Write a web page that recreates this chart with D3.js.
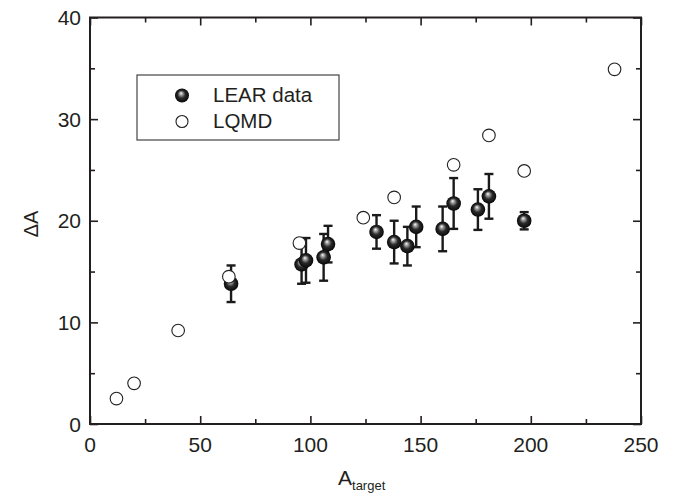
<!DOCTYPE html>
<html><head><meta charset="utf-8">
<script src="https://cdn.jsdelivr.net/npm/d3@7"></script>
<style>
html,body{margin:0;padding:0;background:#fff;}
svg{display:block;font-family:"Liberation Sans",Arial,sans-serif;}
</style></head>
<body><svg id="c" width="685" height="495"></svg>
<script>
// LEAR data (filled spheres with error bars)
const learX = [64, 96, 98, 106, 108, 130, 138, 144, 148, 160, 165, 176, 181, 197];
const learY = [13.8, 15.7, 16.1, 16.4, 17.7, 18.9, 17.9, 17.5, 19.4, 19.2, 21.7, 21.1, 22.4, 20.0];
const learErr = [1.8, 1.9, 2.2, 2.3, 1.8, 1.65, 2.1, 1.9, 2.0, 2.2, 2.5, 2.0, 2.2, 0.85];
// LQMD (open circles)
const lqmdX = [12, 20, 40, 63, 95, 124, 138, 165, 181, 197, 238];
const lqmdY = [2.5, 4.0, 9.2, 14.5, 17.8, 20.3, 22.3, 25.5, 28.4, 24.9, 34.9];
const xTicks = [0, 50, 100, 150, 200, 250];
const yTicks = [0, 10, 20, 30, 40];
const xMinor = [25, 75, 125, 175, 225];
const yMinor = [5, 15, 25, 35];
const seriesNames = ["LEAR data", "LQMD"];

const svg = d3.select("#c");
const L = 90, R = 641, T = 17.5, B = 424;
const x = d3.scaleLinear().domain([0, 250]).range([L, R]);
const y = d3.scaleLinear().domain([0, 40]).range([B, T]);
const ink = "#231f20";

const defs = svg.append("defs");
const g = defs.append("radialGradient").attr("id", "ball")
  .attr("cx", "0.5").attr("cy", "0.5").attr("r", "0.5").attr("fx", "0.42").attr("fy", "0.32");
g.append("stop").attr("offset", "0%").attr("stop-color", "#ffffff");
g.append("stop").attr("offset", "18%").attr("stop-color", "#b0b0b0");
g.append("stop").attr("offset", "55%").attr("stop-color", "#2a2a2a");
g.append("stop").attr("offset", "100%").attr("stop-color", "#080808");

// axes with inward ticks
function axisSet(axisGen, tr, major, minor) {
  const a = svg.append("g").attr("transform", tr);
  a.call(axisGen.tickValues(major).tickSizeInner(8).tickSizeOuter(0));
  const m = svg.append("g").attr("transform", tr);
  m.call(axisGen.tickValues(minor).tickSizeInner(5).tickSizeOuter(0).tickFormat(""));
  m.select(".domain").remove();
  [a, m].forEach(s => { s.selectAll("line").attr("stroke", ink).attr("stroke-width", 1.6); s.select(".domain").attr("stroke", "none"); });
  return a;
}
const xb = axisSet(d3.axisTop(x), `translate(0,${B})`, xTicks, xMinor);
xb.selectAll("text").remove();
const xt = axisSet(d3.axisBottom(x), `translate(0,${T})`, xTicks, xMinor);
xt.selectAll("text").remove();
const yl = axisSet(d3.axisRight(y), `translate(${L},0)`, yTicks, yMinor);
yl.selectAll("text").remove();
const yr = axisSet(d3.axisLeft(y), `translate(${R},0)`, yTicks, yMinor);
yr.selectAll("text").remove();

// frame
svg.append("rect").attr("x", L).attr("y", T).attr("width", R - L).attr("height", B - T)
  .attr("fill", "none").attr("stroke", ink).attr("stroke-width", 2);

// tick labels
svg.append("g").selectAll("text").data(xTicks).join("text")
  .attr("x", d => x(d)).attr("y", 452).attr("text-anchor", "middle")
  .attr("font-size", 21).attr("fill", ink).text(d => d);
svg.append("g").selectAll("text").data(yTicks).join("text")
  .attr("x", 81).attr("y", d => y(d) + 7.5).attr("text-anchor", "end")
  .attr("font-size", 21).attr("fill", ink).text(d => d);

// axis titles
const xl = svg.append("text").attr("x", 338).attr("y", 485).attr("font-size", 21).attr("fill", ink);
xl.append("tspan").text("A");
xl.append("tspan").attr("font-size", 13).attr("dy", 4.5).text("target");
svg.append("text").attr("transform", "translate(38,224) rotate(-90)").attr("text-anchor", "middle")
  .attr("font-size", 20).attr("fill", ink).text("ΔA");

// LEAR error bars
const lear = learX.map((v, i) => ({ x: v, y: learY[i], e: learErr[i] }));
const eb = svg.append("g").attr("stroke", "#1a1a1a").attr("stroke-width", 2.4);
lear.forEach(d => {
  eb.append("line").attr("x1", x(d.x)).attr("x2", x(d.x)).attr("y1", y(d.y - d.e)).attr("y2", y(d.y + d.e));
  [d.y - d.e, d.y + d.e].forEach(v => eb.append("line")
    .attr("x1", x(d.x) - 4.5).attr("x2", x(d.x) + 4.5).attr("y1", y(v)).attr("y2", y(v)));
});
svg.append("g").selectAll("circle").data(lear).join("circle")
  .attr("cx", d => x(d.x)).attr("cy", d => y(d.y)).attr("r", 7.3).attr("fill", "url(#ball)");

// LQMD
const lq = lqmdX.map((v, i) => ({ x: v, y: lqmdY[i] }));
svg.append("g").selectAll("circle").data(lq).join("circle")
  .attr("cx", d => x(d.x)).attr("cy", d => y(d.y)).attr("r", 6.3)
  .attr("fill", "#fff").attr("stroke", ink).attr("stroke-width", 1.1);

// legend
svg.append("rect").attr("x", 137).attr("y", 75).attr("width", 202).attr("height", 65)
  .attr("fill", "#fff").attr("stroke", "#444").attr("stroke-width", 1.2);
svg.append("circle").attr("cx", 182).attr("cy", 95.5).attr("r", 7).attr("fill", "url(#ball)");
svg.append("circle").attr("cx", 182).attr("cy", 121.5).attr("r", 6).attr("fill", "#fff")
  .attr("stroke", ink).attr("stroke-width", 1.1);
svg.append("text").attr("x", 213).attr("y", 102).attr("font-size", 20.5).attr("fill", ink).text(seriesNames[0]);
svg.append("text").attr("x", 213).attr("y", 128).attr("font-size", 20.5).attr("fill", ink).text(seriesNames[1]);
</script></body></html>
